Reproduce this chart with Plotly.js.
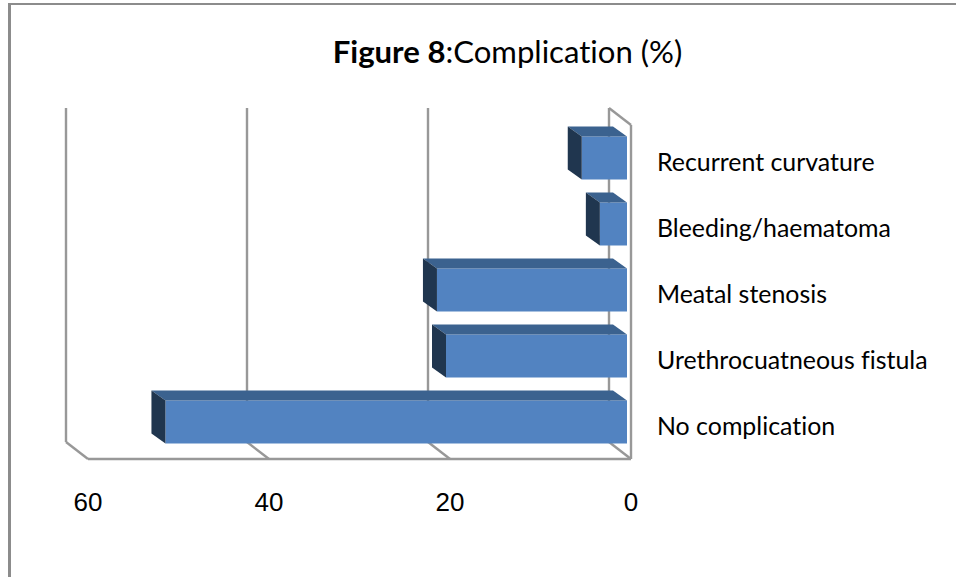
<!DOCTYPE html>
<html>
<head>
<meta charset="utf-8">
<script src="https://cdn.plot.ly/plotly-3.0.1.min.js"></script>
<style>
html,body{margin:0;padding:0;background:#fff;width:956px;height:577px;overflow:hidden}
#frame{position:absolute;left:8px;top:3px;width:948px;height:574px;border-left:3px solid #8c8c8c;border-top:2px solid #8c8c8c;box-sizing:border-box}
#chart{position:absolute;left:0;top:0;width:956px;height:577px}
#chart text{font-variant-ligatures:none;font-feature-settings:"liga" 0,"clig" 0}
</style>
</head>
<body>
<div id="frame"></div>
<div id="chart"></div>
<script>
const categories = ["No complication", "Urethrocuatneous fistula", "Meatal stenosis", "Bleeding/haematoma", "Recurrent curvature"];
const complicationPct = [51, 20, 21, 3, 5];
const axisTicks = [0, 20, 40, 60];

// Plot scales: one data unit in pixels on each axis
const W = 956, H = 577;
const plot = {l: 40, r: 656, t: 100, b: 484};
const pxPerX = 9.05, pxPerY = 66;
const x0Px = 631, y0Px = 426;
const dx = p => p / pxPerX, dy = p => p / pxPerY;
const xRange = [dx(x0Px - plot.l), dx(x0Px - plot.r)];
const yRange = [dy(y0Px - plot.b), dy(y0Px - plot.t)];

// 3D box geometry
const wallDepth = {x: dx(22), y: dy(17)};
const floorY = dy(y0Px - 459), wallTopY = dy(y0Px - 125);
const barPlane = {x: dx(4), y: dy(4)};
const barDepth = {x: dx(14), y: dy(10)};
const barThick = 43 / pxPerY;

const ys = categories.map((_, i) => i);
const front = {
  type: 'bar', orientation: 'h', y: ys.map(i => i + barPlane.y), x: complicationPct,
  base: complicationPct.map(() => barPlane.x), width: barThick,
  marker: {color: '#5283c1', line: {width: 0}}, hoverinfo: 'skip', showlegend: false
};
function face(color, pts) {
  return {type: 'scatter', mode: 'lines', x: pts.map(p => p[0]), y: pts.map(p => p[1]),
    fill: 'toself', fillcolor: color, line: {width: 0, color: color}, hoverinfo: 'skip', showlegend: false};
}
const faces = [];
complicationPct.forEach((v, i) => {
  const xr = barPlane.x, xl = barPlane.x + v;
  const yc = i + barPlane.y, yt = yc + barThick / 2, yb = yc - barThick / 2;
  faces.push(face('#3b628f', [[xr, yt], [xl, yt], [xl + barDepth.x, yt + barDepth.y], [xr + barDepth.x, yt + barDepth.y], [xr, yt]]));
  faces.push(face('#20364f', [[xl, yt], [xl, yb], [xl + barDepth.x, yb + barDepth.y], [xl + barDepth.x, yt + barDepth.y], [xl, yt]]));
});

const wall = {color: '#989898', width: 2.4};
const seg = (a, b) => ({type: 'line', xref: 'x', yref: 'y', layer: 'below', x0: a[0], y0: a[1], x1: b[0], y1: b[1], line: wall});
const shapes = [];
axisTicks.forEach(t => {
  const bx = t + wallDepth.x, by = floorY + wallDepth.y;
  shapes.push(seg([bx, wallTopY + wallDepth.y], [bx, by]));
  shapes.push(seg([bx, by], [t, floorY]));
});
shapes.push(seg([0, floorY], [60, floorY]));
shapes.push(seg([0, floorY], [0, wallTopY]));
shapes.push(seg([0, wallTopY], [wallDepth.x, wallTopY + wallDepth.y]));

const layout = {
  width: W, height: H, paper_bgcolor: 'rgba(0,0,0,0)', plot_bgcolor: 'rgba(0,0,0,0)',
  margin: {l: plot.l, r: W - plot.r, t: plot.t, b: H - plot.b, pad: 0},
  showlegend: false, barmode: 'overlay', shapes: shapes,
  title: {text: '<b>Figure 8</b>:Complication (%)', x: 507.5 / W, xanchor: 'center', y: 1 - 52 / H, yanchor: 'middle',
    font: {family: 'Lato, sans-serif', size: 31.1, color: '#000'}},
  xaxis: {range: xRange, tickmode: 'array', tickvals: axisTicks, ticktext: axisTicks.map(String), ticks: '', showgrid: false,
    zeroline: false, showline: false, tickfont: {family: 'Liberation Sans, Arial, sans-serif', size: 26, color: '#000'}},
  yaxis: {range: yRange, side: 'right', tickmode: 'array', tickvals: ys, ticktext: categories, ticks: '', showgrid: false,
    zeroline: false, showline: false, tickfont: {family: 'Lato, sans-serif', size: 24.9, color: '#000'}}
};
Plotly.newPlot('chart', [front].concat(faces), layout, {displayModeBar: false, staticPlot: true});
</script>
</body>
</html>
